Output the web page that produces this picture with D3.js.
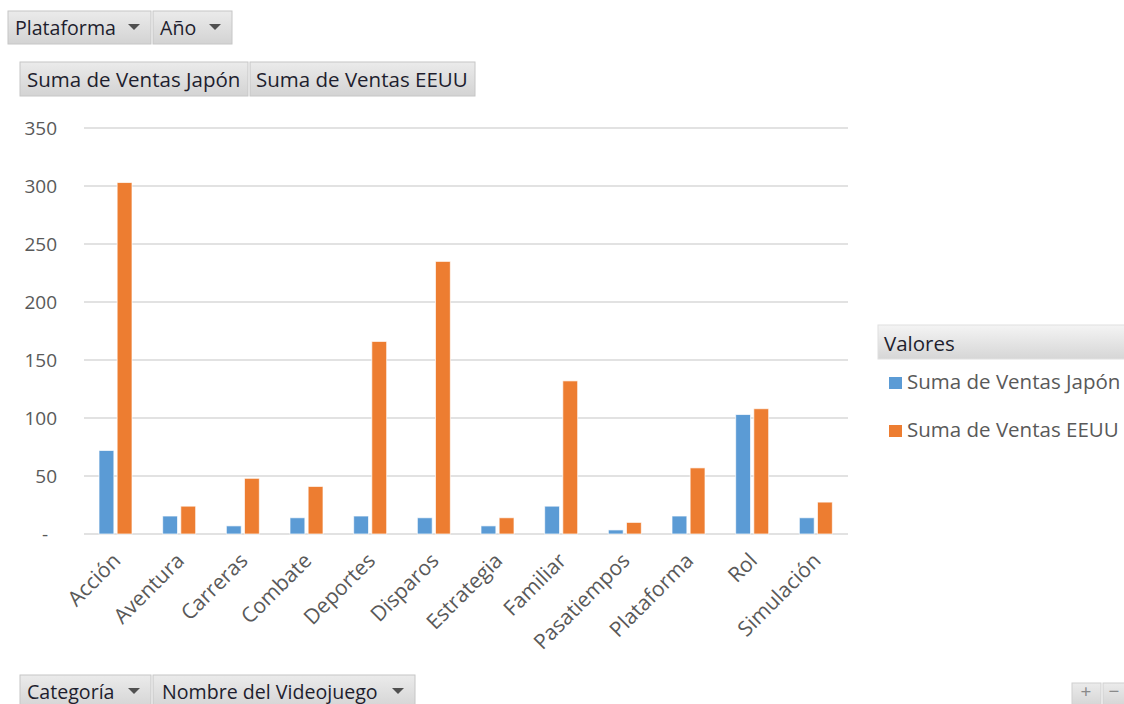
<!DOCTYPE html>
<html>
<head>
<meta charset="utf-8">
<script src="https://cdn.jsdelivr.net/npm/d3@7"></script>
<style>
html,body{margin:0;padding:0;background:#fff;}
svg{display:block;font-family:"Open Sans",sans-serif;}
</style>
</head>
<body>
<svg id="chart" width="1124" height="704"></svg>
<script>
const categories = ["Acción","Aventura","Carreras","Combate","Deportes","Disparos","Estrategia","Familiar","Pasatiempos","Plataforma","Rol","Simulación"];
const seriesNames = ["Suma de Ventas Japón","Suma de Ventas EEUU"];
const ventasJapon = [72,15.5,7,14,15.5,14,7,24,3.5,15.5,103,14];
const ventasEEUU  = [303,24,48,41,166,235,14,132,10,57,108,27.5];
const yTicks = [0,50,100,150,200,250,300,350];
const seriesColors = ["#5B9BD5","#ED7D31"];

const svg = d3.select("#chart");
const defs = svg.append("defs");
const g1 = defs.append("linearGradient").attr("id","btn").attr("x1",0).attr("y1",0).attr("x2",0).attr("y2",1);
g1.append("stop").attr("offset","0%").attr("stop-color","#ebebeb");
g1.append("stop").attr("offset","100%").attr("stop-color","#d3d3d3");
const g2 = defs.append("linearGradient").attr("id","hdr").attr("x1",0).attr("y1",0).attr("x2",0).attr("y2",1);
g2.append("stop").attr("offset","0%").attr("stop-color","#f4f4f4");
g2.append("stop").attr("offset","100%").attr("stop-color","#d6d6d6");

const x0 = d3.scaleBand().domain(categories).range([84,848]).padding(0);
const x1 = d3.scaleBand().domain(seriesNames).range([15,48]).paddingInner(0.18);
const y = d3.scaleLinear().domain([0,350]).range([534,128]);

// gridlines
svg.append("g").selectAll("line").data(yTicks).join("line")
  .attr("x1",84).attr("x2",848)
  .attr("y1",d=>y(d)).attr("y2",d=>y(d))
  .attr("stroke","#d9d9d9").attr("stroke-width",1.5);

// y axis labels
const yAxis = d3.axisLeft(y).tickValues(yTicks).tickSize(0).tickPadding(0)
  .tickFormat(d=> d===0 ? "-" : d);
const ya = svg.append("g").attr("transform","translate(57,0)").call(yAxis);
ya.select(".domain").remove();
ya.selectAll("text").attr("fill","#595959").style("font-size","19px").style("font-family","'Open Sans',sans-serif")
  .attr("x", d=> d===0 ? -9 : 0);

// bars
const data = categories.map((c,i)=>({cat:c, vals:[ventasJapon[i], ventasEEUU[i]]}));
const grp = svg.append("g").selectAll("g").data(data).join("g")
  .attr("transform", d=>`translate(${x0(d.cat)},0)`);
grp.selectAll("rect").data(d=>d.vals.map((v,j)=>({v, s:seriesNames[j], c:seriesColors[j]}))).join("rect")
  .attr("x", d=>x1(d.s)).attr("width", x1.bandwidth())
  .attr("y", d=>y(d.v)).attr("height", d=>y(0)-y(d.v))
  .attr("fill", d=>d.c).attr("stroke","#fff").attr("stroke-opacity",0.7).attr("stroke-width",1);

// x axis labels
const xAxis = d3.axisBottom(x0).tickSize(0).tickPadding(0);
const xa = svg.append("g").attr("transform","translate(0,534)").call(xAxis);
xa.select(".domain").remove();
xa.selectAll("text")
  .attr("fill","#595959").style("font-size","21px").style("font-family","'Open Sans',sans-serif")
  .attr("text-anchor","end").attr("dy",null).attr("y",0)
  .attr("transform","translate(6,28) rotate(-45)");

// buttons
function button(x, yy, w, h, label, arrow, txtX, baseline, fs) {
  const g = svg.append("g");
  g.append("rect").attr("x",x).attr("y",yy).attr("width",w).attr("height",h)
    .attr("fill","url(#btn)").attr("stroke","#c6c6c6").attr("stroke-width",1);
  g.append("text").attr("x",txtX).attr("y",baseline).text(label)
    .attr("fill","#1e1e2e").style("font-size",fs);
  if (arrow) {
    const ax = x + w - 17, ay = baseline - 8;
    g.append("path").attr("d",`M${ax-6},${ay-3}L${ax+6},${ay-3}L${ax},${ay+3}Z`).attr("fill","#505050");
  }
}
button(8,11,143,33,"Plataforma",true,15,35,"19.6px");
button(153,11,79,33,"Año",true,160,35,"19.6px");
button(20,62,228,34,"Suma de Ventas Japón",false,27,87,"20.5px");
button(250,62,225,34,"Suma de Ventas EEUU",false,256,87,"20.5px");
button(20,675,131,35,"Categoría",true,27,699,"19.6px");
button(153,675,262,35,"Nombre del Videojuego",true,162,699,"19.6px");

// +/- buttons
svg.append("rect").attr("x",1072).attr("y",683).attr("width",29).attr("height",25).attr("fill","url(#btn)").attr("stroke","#d0d0d0");
svg.append("rect").attr("x",1103).attr("y",683).attr("width",25).attr("height",25).attr("fill","url(#btn)").attr("stroke","#d0d0d0");
svg.append("text").attr("x",1086).attr("y",698).attr("text-anchor","middle").text("+").attr("fill","#8a8a8a").style("font-size","19px");
svg.append("text").attr("x",1114).attr("y",698).attr("text-anchor","middle").text("−").attr("fill","#8a8a8a").style("font-size","19px");

// legend
svg.append("rect").attr("x",878).attr("y",325).attr("width",250).attr("height",34).attr("fill","url(#hdr)").attr("stroke","#e0e0e0");
svg.append("text").attr("x",884).attr("y",351).text("Valores").attr("fill","#1e1e2e").style("font-size","20.5px");
const leg = svg.append("g").selectAll("g").data(seriesNames).join("g")
  .attr("transform",(d,i)=>`translate(889,${377+i*48})`);
leg.append("rect").attr("width",13).attr("height",12).attr("fill",(d,i)=>seriesColors[i]);
leg.append("text").attr("x",18).attr("y",12).text(d=>d).attr("fill","#595959").style("font-size","20.5px");
</script>
</body>
</html>
